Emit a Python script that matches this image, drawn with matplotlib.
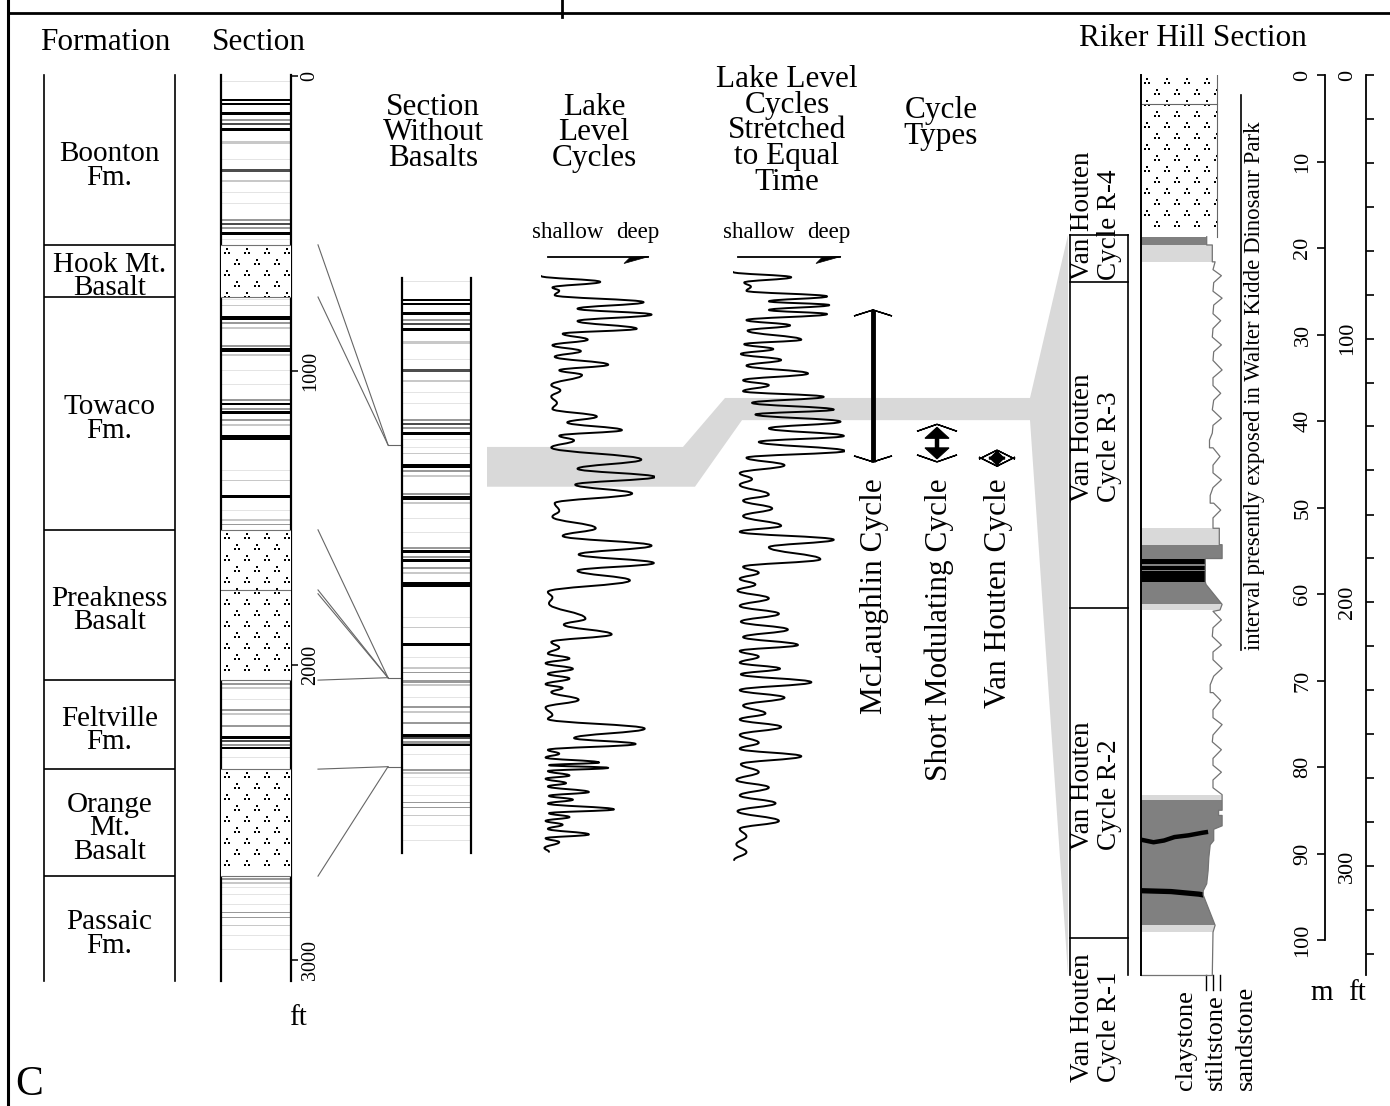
import numpy as np
import matplotlib
matplotlib.use("Agg")
import matplotlib.pyplot as plt
from matplotlib.path import Path
from matplotlib.patches import PathPatch, Polygon, Rectangle
from matplotlib.font_manager import FontProperties

W, H = 1390, 1106
FAMILY = ['Liberation Serif', 'DejaVu Serif']
plt.rcParams['font.family'] = FAMILY

# ---------------------------------------------------------------- data
formation_names = ["Boonton\nFm.", "Hook Mt.\nBasalt", "Towaco\nFm.", "Preakness\nBasalt",
                   "Feltville\nFm.", "Orange\nMt.\nBasalt", "Passaic\nFm."]
formation_tops_ft = [0, 573, 750, 1540, 2050, 2352, 2715]
section_base_ft = 3071
section_ticks_ft = [0, 1000, 2000, 3000]

basalt_top_ft = [573, 1540, 2352]
basalt_base_ft = [750, 2050, 2715]
flow_contacts_ft = [[], [1744, 1757], []]

# lithologic bands of the composite section (depth, thickness in ft, shade class)
band_depth_ft = [17, 81, 95, 126, 149, 163, 183, 227, 285, 322, 356, 397, 431, 489, 502, 516, 533, 556,
                 760, 780, 821, 838, 855, 916, 930, 947, 1001, 1048, 1099, 1113, 1130, 1143, 1167, 1184,
                 1225, 1337, 1371, 1428, 1473, 1506, 1523,
                 2063, 2076, 2117, 2151, 2165, 2205, 2246, 2256, 2270, 2280, 2311,
                 2725, 2738, 2752, 2779, 2813, 2837, 2854, 2881, 2915, 2965]
band_thick_ft = [3.4, 7, 10, 10, 7, 7, 10, 10, 3.4, 10, 7, 3.4, 3.4, 7, 7, 7, 10, 3.4,
                 3.4, 3.4, 14, 7, 7, 7, 14, 7, 3.4, 3.4, 7, 10, 7, 10, 7, 7, 17, 3.4, 3.4, 10, 3.4, 7, 3.4,
                 7, 7, 3.4, 7, 7, 7, 10, 7, 7, 7, 3.4,
                 7, 7, 3.4, 3.4, 3.4, 3.4, 3.4, 3.4, 3.4, 3.4]
band_shade = list("vkkkmdklvdlvvmdmkv" "vlkmlmklvvmkmkmlkvlkvlm" "mlvmlmkdmkv" "mlvvvmmlvv")

# lake level (0 = shallow, 1 = deep) against depth in the section without basalts
lake_depth_ft = [0, 20, 39, 50, 65, 89, 111, 131, 153, 179,
                 196, 216, 235, 255, 274, 301, 320, 336, 370, 388,
                 409, 431, 451, 477, 497, 523, 542, 558, 582, 623,
                 654, 682, 708, 738, 771, 797, 817, 856, 882, 915,
                 945, 974, 1000, 1033, 1072, 1091, 1111, 1163, 1183, 1216,
                 1242, 1261, 1281, 1298, 1314, 1333, 1350, 1366, 1385, 1398,
                 1412, 1438, 1464, 1490, 1503, 1536, 1568, 1588, 1608, 1621,
                 1634, 1651, 1660, 1669, 1680, 1695, 1706, 1721, 1732, 1751,
                 1764, 1777, 1790, 1810, 1823, 1836, 1849, 1862, 1876, 1895,
                 1908, 1921, 1941, 1954]
lake_level = [0.00, 0.52, 0.10, 0.16, 0.12, 0.90, 0.32, 0.97, 0.32, 0.84,
              0.19, 0.41, 0.10, 0.35, 0.12, 0.59, 0.16, 0.36, 0.09, 0.17,
              0.09, 0.14, 0.10, 0.49, 0.23, 0.71, 0.16, 0.29, 0.09, 0.88,
              0.32, 1.00, 0.30, 0.80, 0.12, 0.16, 0.10, 0.48, 0.19, 0.97,
              0.33, 0.99, 0.32, 0.78, 0.06, 0.10, 0.07, 0.39, 0.20, 0.62,
              0.09, 0.16, 0.06, 0.25, 0.04, 0.28, 0.06, 0.25, 0.04, 0.19,
              0.09, 0.33, 0.04, 0.10, 0.06, 0.91, 0.29, 0.83, 0.06, 0.16,
              0.04, 0.51, 0.07, 0.59, 0.06, 0.25, 0.04, 0.22, 0.06, 0.42,
              0.07, 0.28, 0.06, 0.64, 0.07, 0.25, 0.04, 0.19, 0.06, 0.42,
              0.04, 0.16, 0.03, 0.07]

# same record stretched to equal time (kyr)
stretch_time_kyr = [0, 14, 28, 39, 50, 65, 78, 88, 101, 112,
                    128, 142, 156, 180, 192, 205, 218, 234, 249, 270,
                    288, 301, 317, 332, 348, 366, 379, 398, 416, 436,
                    452, 476, 494, 514, 535, 551, 566, 592, 608, 629,
                    649, 675, 691, 712, 732, 764, 784, 800, 816, 831,
                    847, 868, 888, 909, 930, 951, 971, 992, 1008, 1023,
                    1039, 1055, 1070, 1091, 1112, 1132, 1153, 1174, 1190, 1210,
                    1231, 1252, 1268, 1288, 1309, 1330, 1351, 1371, 1392, 1413,
                    1434, 1460, 1481, 1501, 1522, 1543, 1564]
stretch_level = [0.00, 0.52, 0.10, 0.16, 0.12, 0.84, 0.32, 0.86, 0.32, 0.84,
                 0.12, 0.51, 0.13, 0.61, 0.10, 0.36, 0.07, 0.43, 0.12, 0.67,
                 0.09, 0.32, 0.09, 0.81, 0.17, 0.90, 0.20, 0.96, 0.32, 0.99,
                 0.23, 1.00, 0.12, 0.46, 0.06, 0.17, 0.06, 0.32, 0.09, 0.35,
                 0.09, 0.43, 0.06, 0.90, 0.32, 0.78, 0.09, 0.23, 0.06, 0.20,
                 0.04, 0.32, 0.06, 0.41, 0.07, 0.49, 0.09, 0.58, 0.06, 0.23,
                 0.06, 0.42, 0.07, 0.70, 0.06, 0.46, 0.09, 0.29, 0.06, 0.43,
                 0.06, 0.23, 0.06, 0.61, 0.07, 0.23, 0.03, 0.32, 0.06, 0.38,
                 0.04, 0.41, 0.06, 0.12, 0.03, 0.12, 0.01]

cycle_names = ["McLaughlin Cycle", "Short Modulating Cycle", "Van Houten Cycle"]
cycle_period_kyr = [404, 100, 20]
cycle_base_kyr = 505

# interval correlated to the Riker Hill section
corr_strip_ft = (580, 715)
corr_time_kyr = (335, 394)
corr_riker_m = (18.5, 104.0)

# Riker Hill section (m)
riker_basalt_m = (0.0, 18.7)
riker_flow_contact_m = 3.3
riker_cycle_bounds_m = [18.5, 23.9, 61.6, 99.8, 104.0]
riker_cycle_names = ["R-4", "R-3", "R-2", "R-1"]
riker_edge_m = [18.7, 19.65, 19.65, 21.6, 21.6, 22.5, 23.2, 24.0, 25.0, 25.8, 26.6, 27.6, 28.4, 29.3,
                30.3, 31.2, 32.0, 33.0, 34.1, 35.0, 35.9, 36.8, 37.6, 38.7, 39.7, 40.5, 41.4, 42.2,
                43.1, 43.1, 44.1, 45.1, 46.0, 46.8, 47.7, 48.6, 49.5, 49.5, 50.3, 51.2, 52.4, 52.4,
                54.3, 54.3, 55.9, 55.9, 58.6, 58.9, 61.2, 61.85, 62.0, 63.0, 63.9, 64.9, 65.9, 66.7,
                67.6, 68.6, 69.5, 70.5, 71.4, 71.4, 72.3, 73.4, 74.3, 75.1, 76.3, 77.1, 78.0, 79.0,
                79.8, 80.6, 81.5, 82.4, 83.2, 85.0, 85.0, 85.6, 85.6, 86.8, 87.2, 88.5, 89.0, 90.5,
                92.0, 93.5, 94.3, 94.8, 98.3, 99.1, 104.0]
# grain size of the right edge: 1 = claystone, 2 = siltstone, 3 = sandstone
riker_edge_grain = [1.1, 1.1, 1.9, 1.9, 2.3, 2.0, 3.2, 2.1, 2.0, 3.3, 2.1, 2.0, 3.1, 2.0,
                    1.9, 3.2, 2.1, 2.0, 3.3, 2.0, 2.0, 3.1, 2.1, 1.9, 3.2, 2.0, 1.9, 1.5,
                    1.5, 2.0, 3.0, 2.0, 2.0, 3.2, 2.0, 1.6, 1.6, 2.1, 3.1, 2.0, 2.0, 2.9,
                    2.9, 3.3, 3.3, 0.9, 0.9, 1.0, 3.3, 3.0, 2.0, 3.2, 2.0, 1.9, 3.2, 2.0,
                    2.0, 3.3, 2.1, 1.6, 1.6, 2.0, 3.1, 2.0, 2.0, 3.3, 2.0, 1.9, 3.2, 2.0,
                    2.0, 3.2, 2.0, 2.0, 3.3, 3.3, 2.8, 2.8, 3.3, 3.3, 2.1, 2.1, 1.6, 1.4,
                    1.3, 1.1, 0.6, 0.6, 2.3, 2.0, 1.9]
riker_basalt_grain = 2.57
riker_fill_top_m = [18.7, 19.65, 52.4, 54.3, 55.9, 56.5, 57.2, 58.6, 61.2, 83.2, 83.8, 98.3]
riker_fill_base_m = [19.65, 21.6, 54.3, 55.9, 58.6, 56.75, 57.35, 61.2, 61.85, 83.8, 98.3, 99.1]
riker_fill_kind = ['dark', 'light', 'light', 'dark', 'black', 'dark', 'dark', 'dark', 'light',
                   'light', 'dark', 'light']
shale_line1_grain = [-8.3, -6.5, -5.0, -3.5, -1.5, 0.5, 1.3]
shale_line1_m = [88.4, 88.7, 88.5, 88.1, 87.9, 87.6, 87.5]
shale_line2_grain = [-8.3, -4.0, 0.0, 0.7]
shale_line2_m = [94.3, 94.4, 94.7, 94.8]
grain_names = ["claystone", "stiltstone", "sandstone"]
grain_codes = [1, 2, 3]

m_ticks = [0, 10, 20, 30, 40, 50, 60, 70, 80, 90, 100]
ft_labels = [0, 100, 200, 300]
ft_tick_marks = [0, 16.7, 33.3, 50, 66.7, 83.3, 100, 116.7, 133.3, 150, 166.7, 183.3, 200,
                 216.7, 233.3, 250, 266.7, 283.3, 300, 316.7, 333.3]

SHADES = {'k': '#000000', 'd': '#4d4d4d', 'm': '#999999', 'l': '#c8c8c8', 'v': '#e4e4e4'}
FILLS = {'black': '#000000', 'dark': '#808080', 'light': '#d9d9d9'}
BAND_GREY = '#d9d9d9'

# ---------------------------------------------------------------- figure
fig = plt.figure(figsize=(W / 100, H / 100), dpi=100)
renderer = fig.canvas.get_renderer()
ov = fig.add_axes([0, 0, 1, 1], zorder=0)
ov.set_xlim(0, W)
ov.set_ylim(H, 0)
ov.axis('off')
PT = 100 / 72.0


def px_axes(x0, x1, y0, y1, origin, scale, z=2):
    ax = fig.add_axes([x0 / W, 1 - y1 / H, max(x1 - x0, 0.5) / W, (y1 - y0) / H], zorder=z)
    ax.patch.set_alpha(0)
    ax.set_ylim((y1 - origin) / scale, (y0 - origin) / scale)
    for s in ax.spines.values():
        s.set_visible(False)
    ax.set_xticks([])
    ax.set_yticks([])
    return ax


def to_px(ax, x, y):
    return ov.transData.inverted().transform(ax.transData.transform((x, y)))


def block(xc, yc, lines, dy, size, rot=False, ha='left'):
    """Multi-line label; dy = baseline spacing in pixels, (xc, yc) = visual centre."""
    fp = FontProperties(family=FAMILY, size=size)
    _, lh, ld = renderer.get_text_width_height_descent("lp", fp, ismath=False)
    n = len(lines)
    ls = (dy - ld) / (lh - ld) if n > 1 else 1.2
    em = size * PT
    if not rot:
        y_top = yc - (n - 1) / 2 * dy + 0.33 * em - (lh - ld)
        ov.text(xc, y_top, "\n".join(lines), ha='center', va='top', ma='center',
                linespacing=ls, fontsize=size)
    else:
        x_top = xc - (n - 1) / 2 * dy + 0.33 * em - (lh - ld)
        ov.text(x_top, yc, "\n".join(lines), rotation=90, rotation_mode='anchor', ha=ha,
                va='top', ma='left', linespacing=ls, fontsize=size)


def dots_marker():
    verts, codes = [], []
    for cx, cy in [(-1.0, -0.7), (1.0, -0.7), (0.0, 0.7)]:
        s = 0.45
        verts += [(cx - s, cy - s), (cx + s, cy - s), (cx + s, cy + s), (cx - s, cy + s), (cx - s, cy - s)]
        codes += [Path.MOVETO, Path.LINETO, Path.LINETO, Path.LINETO, Path.CLOSEPOLY]
    return Path(verts, codes)


DOTS = dots_marker()


def basalt_fill(ax, x0, x1, top, base, z=3):
    ax.add_patch(Rectangle((x0, top), x1 - x0, base - top, facecolor='white', edgecolor='none', zorder=z))
    dx0, dy0 = ax.transData.transform((x0, top))
    dx1, dy1 = ax.transData.transform((x1, base))
    xs, ys = [], []
    row = 0
    yy = dy0 - 6
    while yy > dy1 + 2:
        xx = dx0 + (6 if row % 2 == 0 else 16)
        while xx < dx1 + 2:
            xs.append(xx)
            ys.append(yy)
            xx += 20
        yy -= 11
        row += 1
    pts = ax.transData.inverted().transform(np.column_stack([xs, ys]))
    clip = Rectangle((x0, top), x1 - x0, base - top, transform=ax.transData)
    sc = ax.scatter(pts[:, 0], pts[:, 1], marker=DOTS, s=24, c='black', linewidths=0, zorder=z + 1)
    sc.set_clip_path(clip)


def wiggle(ax, vals, depths, lw=1.4, k=0.42):
    verts = [(vals[0], depths[0])]
    codes = [Path.MOVETO]
    for i in range(len(vals) - 1):
        h = (depths[i + 1] - depths[i]) * k
        verts += [(vals[i], depths[i] + h), (vals[i + 1], depths[i + 1] - h), (vals[i + 1], depths[i + 1])]
        codes += [Path.CURVE4] * 3
    ax.add_patch(PathPatch(Path(verts, codes), fill=False, lw=lw, ec='black', zorder=5,
                           capstyle='round', joinstyle='round'))


def stripped(d):
    s = d
    for t, b in zip(basalt_top_ft, basalt_base_ft):
        if d >= b:
            s -= (b - t)
    return s


def arrow_head(x, ytip, direction, barb_hw, barb_len, head_hw=0, head_len=0, head_off=0):
    for sgn in (-1, 1):
        ov.add_patch(Polygon([(x, ytip), (x + sgn * barb_hw, ytip + direction * barb_len),
                              (x + sgn * barb_hw * 0.75, ytip + direction * barb_len * 0.75)],
                             closed=True, fc='black', ec='black', lw=1.0))
    if head_hw:
        yt = ytip + direction * head_off
        ov.add_patch(Polygon([(x, yt), (x - head_hw, yt + direction * head_len),
                              (x + head_hw, yt + direction * head_len)],
                             closed=True, fc='black', ec='black', lw=0.8))


FT_PX = 0.2947

# ---------------------------------------------------------------- frame and titles
ov.plot([8, W], [13, 13], color='black', lw=2)
ov.plot([8, 8], [0, H], color='black', lw=2.2)
ov.plot([562, 562], [0, 17], color='black', lw=2)
HEAD = 22.5
block(105, 40, ["Formation"], 0, HEAD)
block(259, 40, ["Section"], 0, HEAD)
block(433, 130, ["Section", "Without", "Basalts"], 25.7, HEAD)
block(594, 130, ["Lake", "Level", "Cycles"], 25.7, HEAD)
block(787, 128, ["Lake Level", "Cycles", "Stretched", "to Equal", "Time"], 25.7, HEAD)
block(941, 121, ["Cycle", "Types"], 25.7, HEAD)
block(1193, 36, ["Riker Hill Section"], 0, HEAD)
ov.text(15, 1095, "C", fontsize=30, ha='left', va='baseline')

# ---------------------------------------------------------------- formation column
fm = px_axes(44, 175, 75, 981, 76, FT_PX)
fm.set_xlim(0, 1)
for side in ('left', 'right'):
    fm.spines[side].set_visible(True)
    fm.spines[side].set_linewidth(1.2)
for d in formation_tops_ft[1:]:
    fm.axhline(d, color='black', lw=1.2)
bounds = formation_tops_ft + [section_base_ft]
for i, name in enumerate(formation_names):
    mid = 0.5 * (bounds[i] + bounds[i + 1])
    xc, yc = to_px(fm, 0.5, mid)
    block(xc, yc + 3, name.split("\n"), 23.5, 21)

# ---------------------------------------------------------------- section column
sec = px_axes(221, 291, 75, 981, 76, FT_PX)
sec.set_xlim(0, 1)
for side in ('left', 'right'):
    sec.spines[side].set_visible(True)
    sec.spines[side].set_linewidth(1.6)
sec.yaxis.tick_right()
sec.set_yticks(section_ticks_ft)
sec.set_yticklabels([str(v) for v in section_ticks_ft], rotation=90, va='center', fontsize=14.5)
sec.tick_params(axis='y', direction='out', length=5, width=1.1, pad=2)
for d, t, s in zip(band_depth_ft, band_thick_ft, band_shade):
    sec.axhspan(d - t / 2, d + t / 2, color=SHADES[s], lw=0, zorder=1)
for t, b, contacts in zip(basalt_top_ft, basalt_base_ft, flow_contacts_ft):
    basalt_fill(sec, 0, 1, t, b)
    for d in [t, b] + contacts[:1]:
        sec.axhline(d, color='0.45', lw=0.8, zorder=6)
block(298, 1015, ["ft"], 0, 21)

# ---------------------------------------------------------------- section without basalts
nob = px_axes(402, 471, 278, 853, 276, FT_PX)
nob.set_xlim(0, 1)
for side in ('left', 'right'):
    nob.spines[side].set_visible(True)
    nob.spines[side].set_linewidth(1.6)
for d, t, s in zip(band_depth_ft, band_thick_ft, band_shade):
    ds = stripped(d)
    nob.axhspan(ds - t / 2, ds + t / 2, color=SHADES[s], lw=0, zorder=1)

# correlation lines between the two columns
for t, b, contacts in zip(basalt_top_ft, basalt_base_ft, flow_contacts_ft):
    yc = to_px(nob, 0, stripped(b))[1]
    for d in [t] + contacts + [b]:
        ys = to_px(sec, 0, d)[1]
        ov.plot([318, 388], [ys, yc], color='0.4', lw=0.8)
    ov.plot([388, 402], [yc, yc], color='0.4', lw=0.8)

# ---------------------------------------------------------------- lake level curves
lake = px_axes(541, 655, 260, 870, 276, FT_PX)
lake.set_xlim(0, 1)
wiggle(lake, lake_level, lake_depth_ft)

strc = px_axes(733, 845, 260, 870, 272, 0.376)
strc.set_xlim(0, 1)
wiggle(strc, stretch_level, stretch_time_kyr)

rk = px_axes(1141, 1235, 75, 990, 75, 8.65)
rk.set_xlim(1 + (1141 - 1206) / 7.0, 1 + (1235 - 1206) / 7.0)

# grey correlation band
yL1 = to_px(lake, 0, corr_strip_ft[0])[1]
yL2 = to_px(lake, 0, corr_strip_ft[1])[1]
yS1 = to_px(strc, 0, corr_time_kyr[0])[1]
yS2 = to_px(strc, 0, corr_time_kyr[1])[1]
yR1 = to_px(rk, 0, corr_riker_m[0])[1]
yR2 = to_px(rk, 0, corr_riker_m[1])[1]
ov.add_patch(Polygon([(487, yL1), (683, yL1), (725, yS1), (1030, yS1), (1068, yR1), (1068, yR2),
                      (1030, yS2), (742, yS2), (695, yL2), (487, yL2)],
                     closed=True, fc=BAND_GREY, ec='none', zorder=0))

# shallow -> deep arrows
for x0, x1, xm in [(548, 648, 596), (738, 840, 787)]:
    ov.plot([x0, x1], [257, 257], color='black', lw=1.3)
    ov.add_patch(Polygon([(x1 + 1, 256.5), (x1 - 24, 263.5), (x1 - 18, 257.5)], closed=True,
                         fc='black', ec='black', lw=0.5))
    block(xm - 28, 230, ["shallow"], 0, 16.5)
    block(xm + 42, 230, ["deep"], 0, 16.5)

# ---------------------------------------------------------------- cycle types
cyc_x = [873, 937, 997]
y_base = to_px(strc, 0, cycle_base_kyr)[1]
for i, (x, per, name) in enumerate(zip(cyc_x, cycle_period_kyr, cycle_names)):
    y_top = to_px(strc, 0, cycle_base_kyr - per)[1]
    if i == 0:
        ov.plot([x, x], [y_top, y_base], color='black', lw=3.5, solid_capstyle='butt')
        arrow_head(x, y_top, 1, 19, 6)
        arrow_head(x, y_base, -1, 19, 6)
    elif i == 1:
        ov.plot([x, x], [y_top + 6, y_base - 6], color='black', lw=3.2, solid_capstyle='butt')
        arrow_head(x, y_top, 1, 20, 7, 12, 11, 3)
        arrow_head(x, y_base, -1, 20, 7, 12, 11, 3)
    else:
        ym = 0.5 * (y_top + y_base)
        ov.plot([x, x], [ym - 8, ym + 8], color='black', lw=2, solid_capstyle='butt')
        arrow_head(x, ym - 8, 1, 18, 9, 8, 8, 1)
        arrow_head(x, ym + 8, -1, 18, 9, 8, 8, 1)
    block(x - 1, 478, [name], 0, 22.5, rot=True, ha='right')

# ---------------------------------------------------------------- Riker Hill column
basalt_fill(rk, rk.get_xlim()[0], riker_basalt_grain, riker_basalt_m[0], riker_basalt_m[1])
rk.plot([rk.get_xlim()[0], riker_basalt_grain], [riker_flow_contact_m] * 2, color='0.4', lw=0.8, zorder=6)
rk.plot([riker_basalt_grain, riker_basalt_grain], list(riker_basalt_m), color='0.4', lw=0.8, zorder=6)
xl = rk.get_xlim()[0]
prof = [(xl, riker_edge_m[0])] + list(zip(riker_edge_grain, riker_edge_m)) + [(xl, riker_edge_m[-1])]
prof_patch = Polygon(prof, closed=True, fc='white', ec='none', zorder=2)
rk.add_patch(prof_patch)
for t, b, kind in zip(riker_fill_top_m, riker_fill_base_m, riker_fill_kind):
    r = Rectangle((xl, t), 20, b - t, fc=FILLS[kind], ec='none', zorder=3)
    rk.add_patch(r)
    r.set_clip_path(prof_patch)
for gx, gm, w in [(shale_line1_grain, shale_line1_m, 3.2), (shale_line2_grain, shale_line2_m, 3.8)]:
    ln, = rk.plot(gx, gm, color='black', lw=w, zorder=4, solid_capstyle='butt')
    ln.set_clip_path(prof_patch)
rk.plot(riker_edge_grain, riker_edge_m, color='0.45', lw=0.9, zorder=5)
rk.plot([xl, riker_edge_grain[-1]], [riker_edge_m[-1]] * 2, color='0.45', lw=0.9, zorder=5)
rk.plot([xl, xl], [0, riker_edge_m[-1]], color='black', lw=1.4, zorder=6, clip_on=False)
for g in grain_codes:
    rk.plot([g, g], [riker_edge_m[-1], riker_edge_m[-1] + 1.8], color='black', lw=1.0, clip_on=False)
for name, xc in zip(grain_names, [1183, 1213, 1243]):
    block(xc, 1090, [name], 0, 19, rot=True, ha='left')

# cycle boxes
yb = [to_px(rk, 0, m)[1] for m in riker_cycle_bounds_m]
ov.plot([1128, 1128], [yb[0], yb[-1]], color='black', lw=1.2)
ov.plot([1070, 1070], [yb[0], yb[-1]], color='black', lw=1.2)
for y in yb[:-1]:
    ov.plot([1070, 1128], [y, y], color='black', lw=1.2)
for name, ybot in zip(riker_cycle_names, [280, 502, 850, 1082]):
    block(1093.5, ybot, ["Van Houten", "Cycle " + name], 27, 19.5, rot=True, ha='left')

# interval exposed in the park
yi0 = to_px(rk, 0, 2.3)[1]
yi1 = to_px(rk, 0, 66.5)[1]
ov.plot([1241, 1241], [yi0, yi1], color='black', lw=1.2)
block(1252, yi1, ["interval presently exposed in Walter Kidde Dinosaur Park"], 0, 16.5, rot=True, ha='left')

# metre scale
ma = px_axes(1325, 1325.5, 75, 940, 75, 8.65)
ma.spines['left'].set_visible(True)
ma.spines['left'].set_linewidth(1.3)
ma.set_yticks(m_ticks)
ma.set_yticklabels([str(v) for v in m_ticks], rotation=90, va='center', ha='right', fontsize=16)
ma.tick_params(axis='y', direction='out', length=6, width=1.2, pad=3)

# feet scale
fa = px_axes(1365, 1365.5, 75, 975, 75, 8.65 * 0.3048)
fa.spines['right'].set_visible(True)
fa.spines['right'].set_linewidth(1.3)
fa.yaxis.set_ticks_position('right')
fa.set_yticks(ft_tick_marks)
fa.tick_params(axis='y', direction='out', length=6, width=1.2, labelright=False)
for v in ft_labels:
    xx, yy = to_px(fa, 0, v)
    ov.text(xx - 8, yy, str(v), rotation=90, ha='right', va='center', fontsize=16)

block(1322, 990, ["m"], 0, 21)
block(1357, 990, ["ft"], 0, 21)

fig.savefig("out.png", dpi=100)
